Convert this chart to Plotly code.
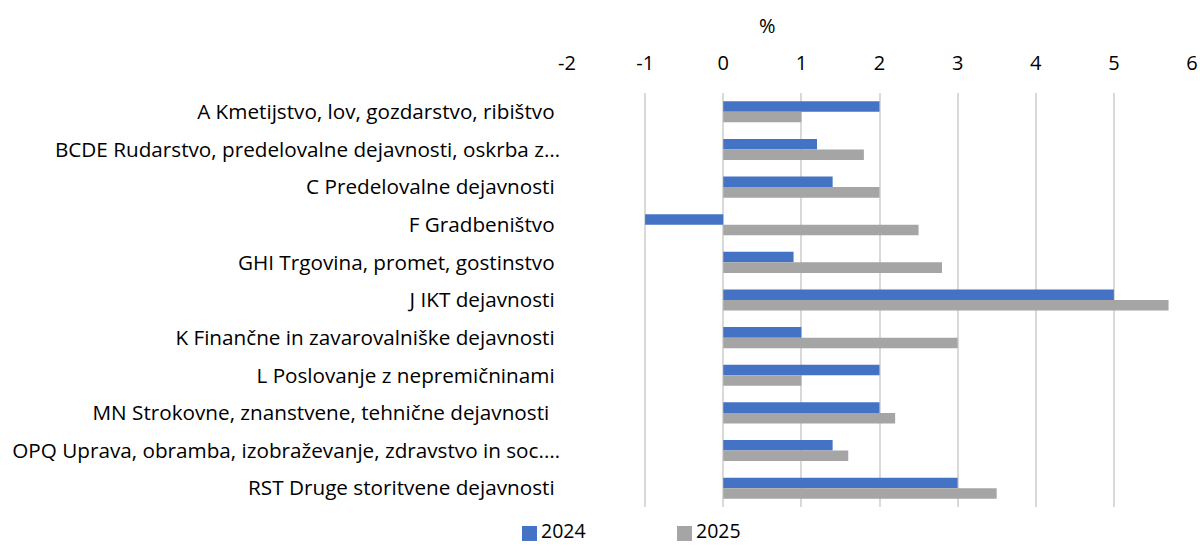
import plotly.graph_objects as go

NB = "\u00a0"
categories = [
    "A Kmetijstvo, lov, gozdarstvo, ribištvo" + NB,
    "BCDE Rudarstvo, predelovalne dejavnosti, oskrba z…",
    "C Predelovalne dejavnosti" + NB,
    "F Gradbeništvo" + NB,
    "GHI Trgovina, promet, gostinstvo" + NB,
    "J IKT dejavnosti" + NB,
    "K Finančne in zavarovalniške dejavnosti" + NB,
    "L Poslovanje z nepremičninami" + NB,
    "MN Strokovne, znanstvene, tehnične dejavnosti" + NB + NB,
    "OPQ Uprava, obramba, izobraževanje, zdravstvo in soc.…",
    "RST Druge storitvene dejavnosti" + NB,
]
series_names = ["2024", "2025"]
values_2024 = [2.0, 1.2, 1.4, -1.0, 0.9, 5.0, 1.0, 2.0, 2.0, 1.4, 3.0]
values_2025 = [1.0, 1.8, 2.0, 2.5, 2.8, 5.7, 3.0, 1.0, 2.2, 1.6, 3.5]
x_ticks = [-2, -1, 0, 1, 2, 3, 4, 5, 6]
x_tick_labels = ["-2", "-1", "0", "1", "2", "3", "4", "5", "6"]
colors = ["#4472C4", "#A5A5A5"]

FONT = "Open Sans"
FS = 20
FS_CAT = 20.7
FS_LEG = 19.5

W, H = 1200, 545
L, R, T = 567, 8, 93
B = H - 507.5
plot_w = W - L - R
plot_h = H - T - B


def px_to_paper_x(px):
    return (px - L) / plot_w


def px_to_paper_y(py):
    return (H - B - py) / plot_h


fig = go.Figure()
for name, vals, col in zip(series_names, [values_2024, values_2025], colors):
    fig.add_trace(go.Bar(y=categories, x=vals, orientation="h", name=name,
                         marker=dict(color=col, line=dict(width=0)),
                         showlegend=False))

# manual legend (square + label), positions in page pixels
legend_sq_x = [522, 677]
legend_sq_center = 534
legend_txt_center = 531
shapes = []
annotations = []
for name, col, sx in zip(series_names, colors, legend_sq_x):
    shapes.append(dict(type="rect", xref="paper", yref="paper",
                       x0=px_to_paper_x(sx), x1=px_to_paper_x(sx + 15),
                       y0=px_to_paper_y(legend_sq_center + 7.5),
                       y1=px_to_paper_y(legend_sq_center - 7.5),
                       fillcolor=col, line=dict(width=0)))
    annotations.append(dict(text=name, xref="paper", yref="paper",
                            x=px_to_paper_x(sx + 18), y=px_to_paper_y(legend_txt_center),
                            xanchor="left", yanchor="middle", showarrow=False,
                            borderpad=0,
                            font=dict(size=FS_LEG, family=FONT, color="#000000")))

annotations.append(dict(text="%", xref="paper", yref="paper",
                        x=px_to_paper_x(767), y=1, yshift=68, xanchor="center",
                        yanchor="middle", showarrow=False,
                        font=dict(size=FS, family=FONT)))

fig.update_layout(
    width=W, height=H,
    barmode="group", bargap=0.44, bargroupgap=0,
    plot_bgcolor="white", paper_bgcolor="white",
    margin=dict(l=L, r=R, t=T, b=B, autoexpand=False),
    font=dict(family=FONT, size=FS, color="#000000"),
    showlegend=False,
    xaxis=dict(side="top", range=[-2, 6], tickvals=x_ticks, ticktext=x_tick_labels,
               showgrid=True, gridcolor="#D9D9D9", gridwidth=1.5,
               zeroline=True, zerolinecolor="#D9D9D9", zerolinewidth=1.5,
               showline=False, ticks="", ticklabelstandoff=18,
               tickfont=dict(size=FS, family=FONT)),
    yaxis=dict(autorange="reversed", showgrid=False, ticks="", showline=False,
               ticklabelstandoff=6, tickfont=dict(size=FS_CAT, family=FONT)),
    shapes=shapes,
    annotations=annotations,
)

fig.write_html("out.html",
               config={"displayModeBar": False},
               post_script="document.body.style.margin='0';document.body.style.overflow='hidden';")
